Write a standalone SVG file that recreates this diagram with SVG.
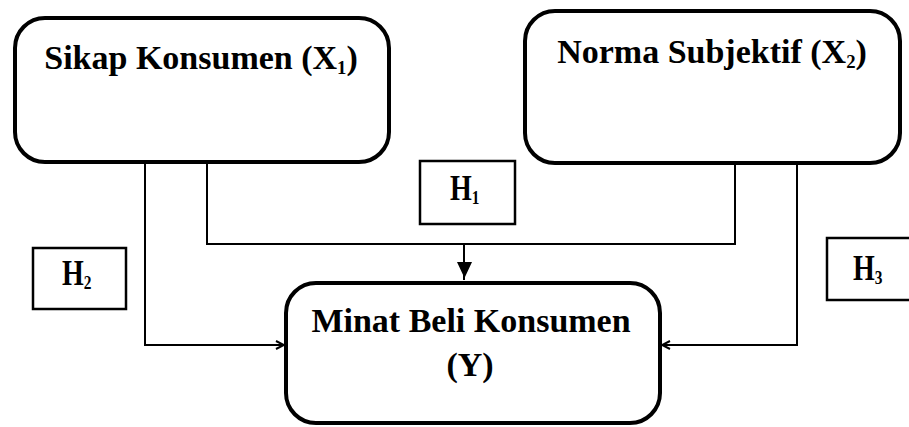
<svg xmlns="http://www.w3.org/2000/svg" width="909" height="427" viewBox="0 0 909 427">
  <style>
    .node { fill: #ffffff; stroke: #000000; stroke-width: 4; }
    .hbox { fill: #ffffff; stroke: #000000; stroke-width: 2.5; }
    .title { font-family: "Liberation Serif", "Times New Roman", serif; font-weight: bold; font-size: 34px; fill: #000000; }
    .hyp { font-family: "Liberation Serif", "Times New Roman", serif; font-weight: bold; font-size: 28px; fill: #000000; }
    .sub { font-size: 55%; }
    .link { fill: none; stroke: #000000; stroke-width: 2; }
  </style>
  <defs>
    <marker id="open" viewBox="0 0 10 10" refX="9" refY="5" markerWidth="10" markerHeight="10" markerUnits="userSpaceOnUse" orient="auto">
      <path d="M1,1 L9,5 L1,9" fill="none" stroke="#000000" stroke-width="2"/>
    </marker>
  </defs>
  <rect width="909" height="427" fill="#ffffff"/>

  <!-- connectors -->
  <g id="connectors">
    <path class="link" d="M145,164 V345 H284" marker-end="url(#open)"/>
    <path class="link" d="M797,165 V345 H662" marker-end="url(#open)"/>
    <path class="link" d="M207,164 V244 H735 V165"/>
    <path class="link" d="M464,244 V280"/>
    <polygon points="457,262 472,262 465,277 464,277" fill="#000000"/>
  </g>

  <!-- variables -->
  <g id="sikap">
    <rect class="node" x="15" y="18" width="374" height="144" rx="30"/>
    <text class="title" x="201" y="69" text-anchor="middle">Sikap Konsumen (X<tspan class="sub" dy="5">1</tspan><tspan dy="-5">)</tspan></text>
  </g>
  <g id="norma">
    <rect class="node" x="525" y="11" width="375" height="152" rx="30"/>
    <text class="title" x="712" y="63" text-anchor="middle">Norma Subjektif (X<tspan class="sub" dy="5">2</tspan><tspan dy="-5">)</tspan></text>
  </g>
  <g id="minat">
    <rect class="node" x="286" y="283" width="374" height="140" rx="30"/>
    <text class="title" x="471" y="332" text-anchor="middle">Minat Beli Konsumen</text>
    <text class="title" x="470" y="376" text-anchor="middle">(Y)</text>
  </g>

  <!-- hypotheses -->
  <g id="h1">
    <rect class="hbox" x="420" y="161" width="95" height="63"/>
    <text class="hyp" transform="translate(450,200) scale(1,1.25)">H<tspan class="sub" dy="3">1</tspan></text>
  </g>
  <g id="h2">
    <rect class="hbox" x="33" y="248" width="93" height="61"/>
    <text class="hyp" transform="translate(62,285) scale(1,1.25)">H<tspan class="sub" dy="3">2</tspan></text>
  </g>
  <g id="h3">
    <rect class="hbox" x="827" y="238" width="90" height="62"/>
    <text class="hyp" transform="translate(853,280) scale(1,1.25)">H<tspan class="sub" dy="3">3</tspan></text>
  </g>
</svg>
